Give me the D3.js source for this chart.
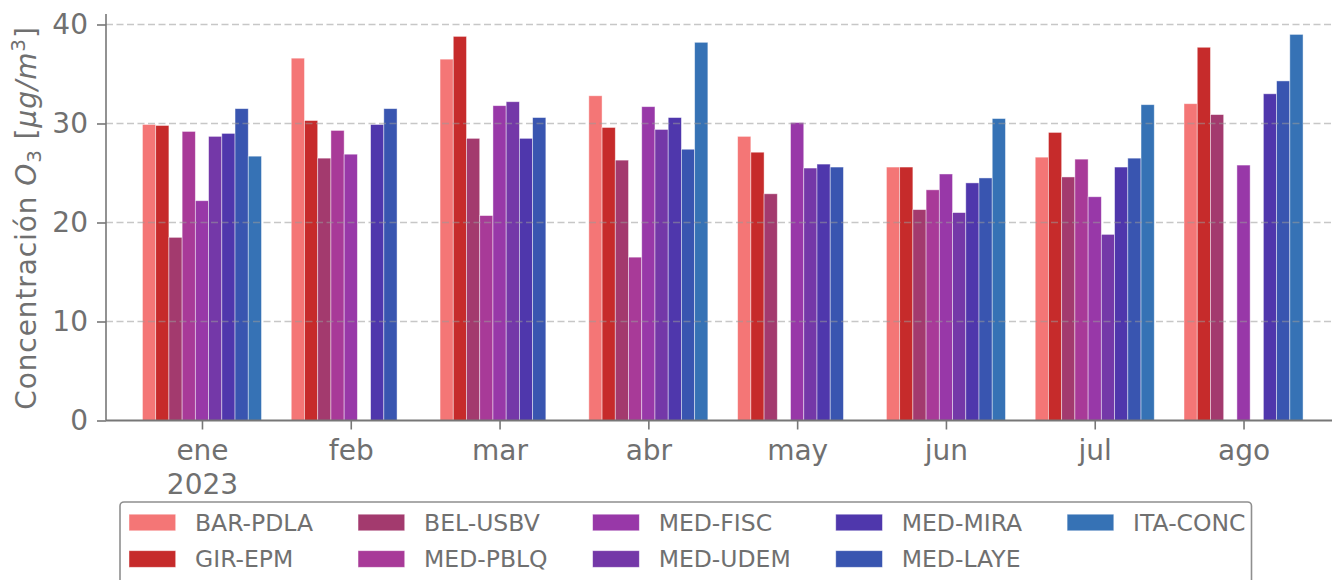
<!DOCTYPE html>
<html>
<head>
<meta charset="utf-8">
<script src="https://cdn.jsdelivr.net/npm/d3@7"></script>
<style>
  html, body { margin: 0; padding: 0; background: #fff; }
  svg { display: block; font-family: "DejaVu Sans", sans-serif; }
</style>
</head>
<body>
<svg id="chart" width="1332" height="580"></svg>
<script>
const months = ["ene", "feb", "mar", "abr", "may", "jun", "jul", "ago"];
const yearLabel = "2023";
const stations = ["BAR-PDLA", "GIR-EPM", "BEL-USBV", "MED-PBLQ", "MED-FISC", "MED-UDEM", "MED-MIRA", "MED-LAYE", "ITA-CONC"];
const colors = ["#f47676", "#c62b2b", "#a33a6e", "#a83a98", "#9838a8", "#7438a8", "#4f37ac", "#3955b0", "#3672b5"];

const barPdla = [29.9, 36.6, 36.5, 32.8, 28.7, 25.6, 26.6, 32.0];
const girEpm  = [29.8, 30.3, 38.8, 29.6, 27.1, 25.6, 29.1, 37.7];
const belUsbv = [18.5, 26.5, 28.5, 26.3, 22.9, 21.3, 24.6, 30.9];
const medPblq = [29.2, 29.3, 20.7, 16.5, null, 23.3, 26.4, null];
const medFisc = [22.2, 26.9, 31.8, 31.7, 30.1, 24.9, 22.6, 25.8];
const medUdem = [28.7, null, 32.2, 29.4, 25.5, 21.0, 18.8, null];
const medMira = [29.0, 29.9, 28.5, 30.6, 25.9, 24.0, 25.6, 33.0];
const medLaye = [31.5, 31.5, 30.6, 27.4, 25.6, 24.5, 26.5, 34.3];
const itaConc = [26.7, null, null, 38.2, null, 30.5, 31.9, 39.0];

const yTicks = [0, 10, 20, 30, 40];

const series = [barPdla, girEpm, belUsbv, medPblq, medFisc, medUdem, medMira, medLaye, itaConc];

const svg = d3.select("#chart");
const textColor = "#707070";
const axisColor = "#777777";

const x = d3.scaleLinear().domain([-0.645, months.length - 1 + 0.645]).range([106, 1339.5]);
const y = d3.scaleLinear().domain([0, 41.06]).range([420.5, 14]);

const groupWidth = 0.8;
const nS = stations.length;
const bw = groupWidth / nS;

// bars
const barData = [];
series.forEach((vals, j) => {
  vals.forEach((v, i) => {
    if (v !== null) barData.push({ i, j, v });
  });
});
svg.append("g").selectAll("rect").data(barData).enter().append("rect")
  .attr("x", d => x(d.i - groupWidth / 2 + d.j * bw))
  .attr("width", d => x(bw) - x(0))
  .attr("y", d => y(d.v))
  .attr("height", d => y(0) - y(d.v))
  .attr("fill", d => colors[d.j])
  .attr("stroke", "#ffffff")
  .attr("stroke-opacity", 0.55)
  .attr("stroke-width", 0.8);

// grid lines (on top of bars)
svg.append("g").selectAll("line").data(yTicks.filter(t => t > 0)).enter().append("line")
  .attr("x1", 106).attr("x2", 1332)
  .attr("y1", d => y(d)).attr("y2", d => y(d))
  .attr("stroke", "#999999")
  .attr("stroke-opacity", 0.55)
  .attr("stroke-width", 1.6)
  .attr("stroke-dasharray", "7,3.5");

// y axis
const yAxis = d3.axisLeft(y).tickValues(yTicks).tickSize(9).tickPadding(9).tickFormat(d3.format("d"));
const gy = svg.append("g").attr("transform", "translate(106,0)").call(yAxis);
gy.select(".domain").attr("stroke", axisColor).attr("stroke-width", 1.6).attr("d", `M0,${y(0)}V${y(41.06)}`);
gy.selectAll(".tick line").attr("stroke", axisColor).attr("stroke-width", 1.6);
gy.selectAll(".tick text").attr("fill", textColor).style("font-size", "28px").style("font-family", "DejaVu Sans");

// x axis
const xAxis = d3.axisBottom(x).tickValues(d3.range(months.length)).tickSize(9).tickPadding(10).tickFormat(i => months[i]);
const gx = svg.append("g").attr("transform", `translate(0,${y(0)})`).call(xAxis);
gx.select(".domain").attr("stroke", axisColor).attr("stroke-width", 2).attr("d", "M106,0H1332");
gx.selectAll(".tick line").attr("stroke", axisColor).attr("stroke-width", 1.6);
gx.selectAll(".tick text").attr("fill", textColor).style("font-size", "28px").style("font-family", "DejaVu Sans")
  .attr("dy", null).attr("y", 39);
gx.selectAll(".tick").filter(i => i === 0).append("text")
  .attr("y", 73).attr("fill", textColor).attr("text-anchor", "middle")
  .style("font-size", "28px").style("font-family", "DejaVu Sans")
  .text(yearLabel);

// y label
const yl = svg.append("text")
  .attr("transform", "translate(36,218) rotate(-90)")
  .attr("text-anchor", "middle")
  .attr("fill", textColor)
  .style("font-size", "28px")
  .style("letter-spacing", "0.9px");
yl.append("tspan").text("Concentración ");
yl.append("tspan").style("font-style", "italic").text("O");
yl.append("tspan").attr("dy", 5).style("font-size", "20px").text("3");
yl.append("tspan").attr("dy", -5).text(" [");
yl.append("tspan").style("font-style", "italic").text("μg/m");
yl.append("tspan").attr("dy", -11).style("font-size", "20px").text("3");
yl.append("tspan").attr("dy", 11).text("]");

// legend
const legend = svg.append("g");
legend.append("rect")
  .attr("x", 120).attr("y", 502).attr("width", 1131.5).attr("height", 100)
  .attr("rx", 4).attr("ry", 4)
  .attr("fill", "#ffffff").attr("fill-opacity", 0.8)
  .attr("stroke", "#8f8f8f").attr("stroke-width", 1.6);

const nRows = 2;
const rowY = [522.5, 559];
let colX = 129;
const nCols = Math.ceil(nS / nRows);
for (let c = 0; c < nCols; c++) {
  let maxW = 0;
  for (let r = 0; r < nRows; r++) {
    const idx = c * nRows + r;
    if (idx >= nS) continue;
    legend.append("rect")
      .attr("x", colX).attr("y", rowY[r] - 8.3)
      .attr("width", 46.7).attr("height", 16.6)
      .attr("fill", colors[idx])
      .attr("stroke", "#ffffff").attr("stroke-opacity", 0.55).attr("stroke-width", 0.8);
    const t = legend.append("text")
      .attr("x", colX + 66).attr("y", rowY[r])
      .attr("dominant-baseline", "central")
      .attr("fill", textColor)
      .style("font-size", "23.5px")
      .text(stations[idx]);
    maxW = Math.max(maxW, t.node().getComputedTextLength());
  }
  colX = colX + 66 + maxW + 45;
}
</script>
</body>
</html>
